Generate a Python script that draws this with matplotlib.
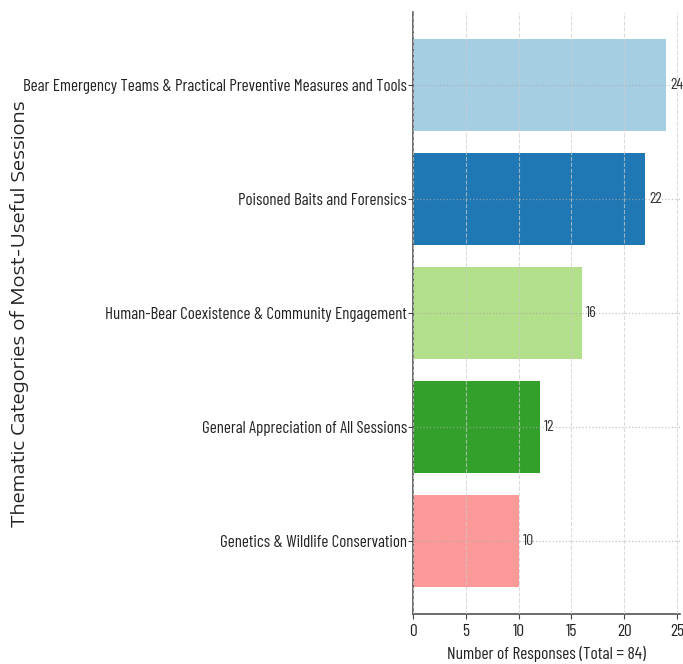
import matplotlib
matplotlib.use("Agg")
import matplotlib.pyplot as plt

categories = [
    "Bear Emergency Teams & Practical Preventive Measures and Tools",
    "Poisoned Baits and Forensics",
    "Human-Bear Coexistence & Community Engagement",
    "General Appreciation of All Sessions",
    "Genetics & Wildlife Conservation",
]
responses = [24, 22, 16, 12, 10]
colors = ["#a6cee3", "#1f78b4", "#b2df8a", "#33a02c", "#fb9a99"]
total = 84
xticks = [0, 5, 10, 15, 20, 25]

narrow = ["Barlow Condensed", "DejaVu Sans"]
wide = ["Encode Sans Expanded", "DejaVu Sans"]
text_color = "#222222"

fig = plt.figure(figsize=(6.83, 6.64), dpi=100)
ax = fig.add_axes([0.6047, 0.0753, 0.3909, 0.9067])

ypos = list(range(len(categories)))
ax.barh(ypos, responses, height=0.8, color=colors, zorder=1)
ax.invert_yaxis()
ax.set_yticks(ypos)
ax.set_yticklabels(categories, fontsize=12.2, family=narrow, color=text_color)
ax.set_xlim(0, 25.3)
ax.set_xticks(xticks)
ax.set_xticklabels([str(t) for t in xticks], fontsize=12.5, family=narrow, color=text_color)
ax.tick_params(axis="y", pad=1, length=3.5, color="#444444")
ax.tick_params(axis="x", pad=4, length=3.5, color="#444444")

for y, v in zip(ypos, responses):
    ax.text(v + 0.4, y, str(v), va="center", ha="left", fontsize=11.5,
            family=narrow, color="#333333")

ax.grid(True, axis="x", linestyle="--", color="#cccccc", alpha=0.7, linewidth=0.8, zorder=2)
ax.grid(True, axis="y", linestyle=":", color="#aaaaaa", alpha=0.7, linewidth=0.9, zorder=2)
ax.set_axisbelow(False)
for s in ("top", "right"):
    ax.spines[s].set_visible(False)
ax.spines["left"].set_color("#444444")
ax.spines["bottom"].set_color("#444444")
ax.spines["left"].set_linewidth(1.1)
ax.spines["bottom"].set_linewidth(1.1)

ax.set_xlabel(f"Number of Responses (Total = {total})", fontsize=12.5, family=narrow,
              color=text_color, labelpad=5)
fig.text(0.029, 0.527, "Thematic Categories of Most-Useful Sessions", rotation=90,
         va="center", ha="center", fontsize=13.5, family=wide, color=text_color)

fig.savefig("out.png", dpi=100)
